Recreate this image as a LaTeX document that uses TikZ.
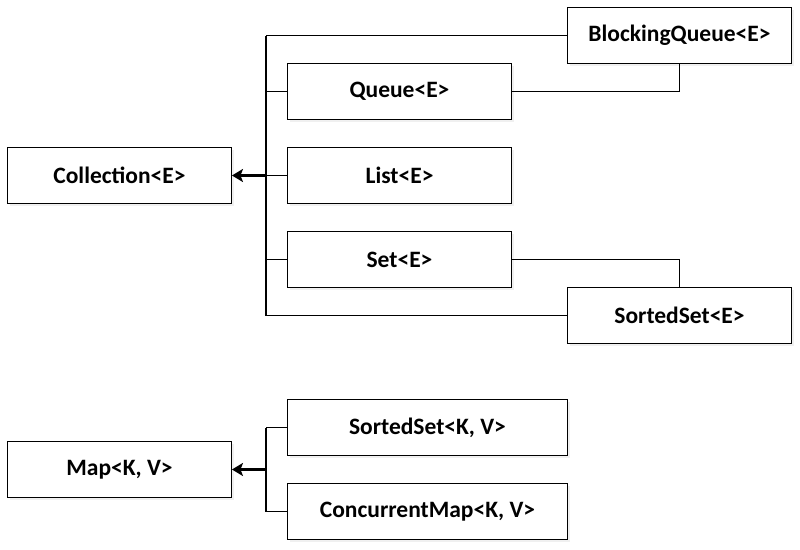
\documentclass[tikz,border=0pt]{standalone}
\usepackage{fontspec}
\setmainfont{Carlito}
\usetikzlibrary{arrows.meta,shadows}
\begin{document}
\begin{tikzpicture}[x=1pt,y=-1pt,
  box/.style={draw=black,line width=0.9pt,fill=white,rectangle,minimum width=224pt,minimum height=56pt,inner sep=0pt,
    font=\fontsize{23.5}{28}\selectfont\bfseries,
    drop shadow={opacity=0.12,shadow xshift=2pt,shadow yshift=-2pt,fill=gray}},
  widebox/.style={box,minimum width=280pt},
  conn/.style={draw=black,line width=1.6pt},
  trunk/.style={draw=black,line width=2pt},
  arr/.style={draw=black,line width=2.2pt,-{Stealth[length=11pt,width=13pt,inset=2.5pt]}}]
\useasboundingbox (0,0) rectangle (800,549);
% nodes
\node[box] (col) at (119.5,175.5) {Collection<E>};
\node[box] (bq)  at (679.5,35.5)  {BlockingQueue<E>};
\node[box] (qu)  at (399.5,91.5)  {Queue<E>};
\node[box] (li)  at (399.5,175.5) {List<E>};
\node[box] (se)  at (399.5,259.5) {Set<E>};
\node[box] (ss)  at (679.5,315.5) {SortedSet<E>};
\node[box] (map) at (119.5,469.5) {Map<K, V>};
\node[widebox] (sm) at (427.5,427.5) {SortedSet<K, V>};
\node[widebox] (cm) at (427.5,511.5) {ConcurrentMap<K, V>};
\coordinate (tk) at (266,0);
% upper group
\draw[trunk] (bq.west -| tk) -- (ss.west -| tk);
\draw[conn] (bq.west) -- (bq.west -| tk);
\draw[conn] (qu.west) -- (qu.west -| tk);
\draw[conn] (li.west) -- (li.west -| tk);
\draw[conn] (se.west) -- (se.west -| tk);
\draw[conn] (ss.west) -- (ss.west -| tk);
\draw[arr] (col.east -| tk) -- (col.east);
\draw[conn] (qu.east) -| (bq.south);
\draw[conn] (se.east) -| (ss.north);
% lower group
\draw[trunk] (sm.west -| tk) -- (cm.west -| tk);
\draw[conn] (sm.west) -- (sm.west -| tk);
\draw[conn] (cm.west) -- (cm.west -| tk);
\draw[arr] (map.east -| tk) -- (map.east);
\end{tikzpicture}
\end{document}
